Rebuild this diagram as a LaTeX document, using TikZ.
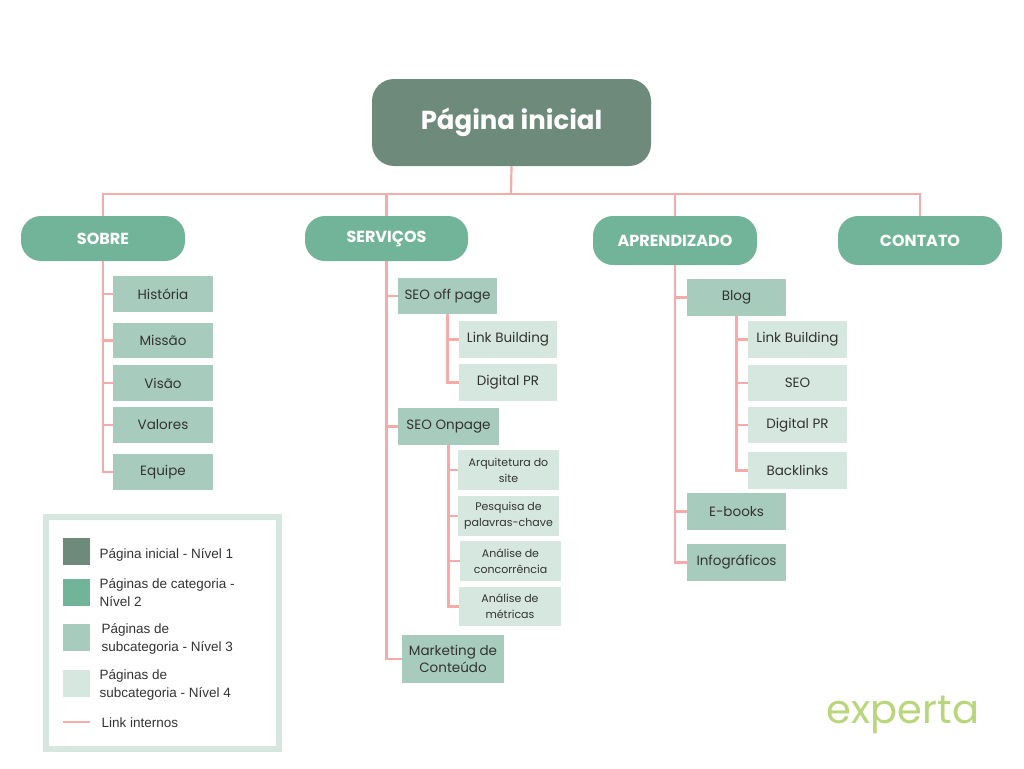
\documentclass[tikz,border=0pt]{standalone}
\usepackage{fontspec}
\setmainfont{Poppins}
\newfontfamily\legfont{Liberation Sans}
\definecolor{cdark}{HTML}{6E8A7B}
\definecolor{ccat}{HTML}{72B49A}
\definecolor{cthree}{HTML}{A7CBBC}
\definecolor{cfour}{HTML}{D6E7E0}
\definecolor{cpink}{HTML}{F6ABAB}
\definecolor{clogo}{HTML}{B9D77A}
\begin{document}
\begin{tikzpicture}[x=1pt,y=-1pt,
  link/.style={draw=cpink,line width=2.2pt},
  root/.style={fill=cdark,rounded corners=22pt,text=white,font=\bfseries\fontsize{26}{30}\selectfont},
  cat/.style={fill=ccat,rounded corners=20pt,text=white,font=\bfseries\fontsize{16}{19}\selectfont},
  three/.style={fill=cthree,text=black!80,font=\fontsize{13.5}{17}\selectfont,align=center},
  four/.style={fill=cfour,text=black!80,font=\fontsize{13.5}{17}\selectfont,align=center},
  fours/.style={fill=cfour,text=black!80,font=\fontsize{11}{16}\selectfont,align=center},
  leg/.style={anchor=west,font=\legfont\fontsize{13.5}{18}\selectfont,align=left,text=black!80}]
\newcommand\mybox[7]{\node[#6,inner sep=0pt,minimum width={#4-#2},minimum height={#5-#3}] (#1) at ({(#2+#4)/2},{(#3+#5)/2+1}) {#7};}
\useasboundingbox (0,0) rectangle (1024,768);
\fill[white] (0,0) rectangle (1024,768);
% nodes
\mybox{root}{372}{78}{651}{165}{root}{Página inicial}
\mybox{sobre}{21}{215}{185}{260}{cat}{SOBRE}
\mybox{serv}{305}{215}{468}{260}{cat}{SERVIÇOS}
\mybox{apr}{593}{215}{757}{264}{cat}{APRENDIZADO}
\mybox{cont}{838}{215}{1002}{264}{cat}{CONTATO}
\mybox{hist}{113}{275}{213}{311}{three}{História}
\mybox{miss}{113}{322}{213}{357}{three}{Missão}
\mybox{vis}{113}{364}{213}{400}{three}{Visão}
\mybox{val}{113}{406}{213}{442}{three}{Valores}
\mybox{equ}{113}{453}{213}{489}{three}{Equipe}
\mybox{off}{398}{277}{497}{313}{three}{SEO off page}
\mybox{lb1}{459}{320}{557}{357}{four}{Link Building}
\mybox{pr1}{459}{363}{557}{400}{four}{Digital PR}
\mybox{onp}{398}{407}{499}{444}{three}{SEO Onpage}
\mybox{arq}{458}{449}{559}{489}{fours}{Arquitetura do\\site}
\mybox{pes}{458}{495}{559}{535}{fours}{Pesquisa de\\palavras-chave}
\mybox{conc}{460}{540}{561}{580}{fours}{Análise de\\concorrência}
\mybox{met}{459}{586}{561}{625}{fours}{Análise de\\métricas}
\mybox{mkt}{402}{634}{504}{682}{three}{Marketing de\\Conteúdo}
\mybox{blog}{687}{278}{786}{315}{three}{Blog}
\mybox{lb2}{748}{320}{847}{357}{four}{Link Building}
\mybox{seo}{748}{364}{847}{400}{four}{SEO}
\mybox{pr2}{748}{406}{847}{442}{four}{Digital PR}
\mybox{back}{748}{451}{847}{488}{four}{Backlinks}
\mybox{ebk}{687}{492}{786}{529}{three}{E-books}
\mybox{inf}{687}{543}{786}{580}{three}{Infográficos}
% links
\coordinate (bus) at (511,194);
\draw[link] (root.south) -- (bus);
\draw[link] (sobre.north) |- (bus) -| (cont.north);
\draw[link] (serv.north) -- (serv.north |- bus);
\draw[link] (apr.north) -- (apr.north |- bus);
\foreach \c in {hist,miss,vis,val,equ} \draw[link] (sobre.south) |- (\c.west);
\foreach \c in {off,onp,mkt} \draw[link] (serv.south) |- (\c.west);
\foreach \c in {lb1,pr1} \draw[link] (off.south) |- (\c.west);
\foreach \c in {arq,pes,conc,met} \draw[link] (onp.south) |- (\c.west);
\foreach \c in {blog,ebk,inf} \draw[link] (apr.south) |- (\c.west);
\foreach \c in {lb2,seo,pr2,back} \draw[link] (blog.south) |- (\c.west);
% legend
\draw[cfour,line width=6pt] (46,517) rectangle (279,749);
\fill[cdark] (63,538) rectangle (90,565);
\fill[ccat] (63,579) rectangle (90,606);
\fill[cthree] (63,624) rectangle (90,651);
\fill[cfour] (63,670) rectangle (90,697);
\coordinate (la) at (63,722); \coordinate (lb) at (90,722);
\draw[cpink,line width=2.5pt] (la) -- (lb);
\node[leg] (l1) at (96,555) {Página inicial - Nível 1};
\node[leg] (l2) at (96,593) {Páginas de categoria -\\Nível 2};
\node[leg] (l3) at (98,639) {Páginas de\\subcategoria - Nível 3};
\node[leg] (l4) at (96,685) {Páginas de\\subcategoria - Nível 4};
\node[leg] (l5) at (98,723) {Link internos};
% logo
\node[text=clogo,font=\fontsize{40}{44}\selectfont] (logo) at (903,715) {experta};
\end{tikzpicture}
\end{document}
